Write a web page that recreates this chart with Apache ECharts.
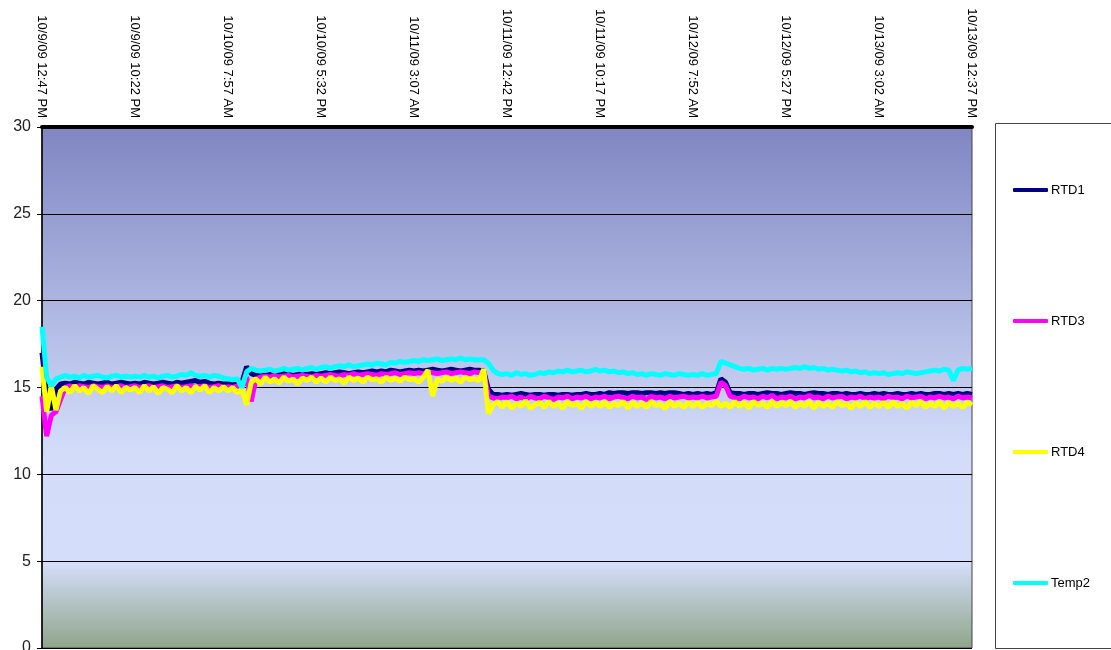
<!DOCTYPE html>
<html>
<head>
    <meta charset="utf-8">
    <title>ECharts</title>
    <script src="https://cdn.jsdelivr.net/npm/echarts@6/dist/echarts.min.js"></script>
</head>
<body style="margin:0;background:#fff;">
    <div id="main" style="width:1111px;height:650px;"></div>
    <script type="text/javascript">

        var tickLabels = ['10/9/09 12:47 PM', '10/9/09 10:22 PM', '10/10/09 7:57 AM', '10/10/09 5:32 PM',
            '10/11/09 3:07 AM', '10/11/09 12:42 PM', '10/11/09 10:17 PM', '10/12/09 7:52 AM',
            '10/12/09 5:27 PM', '10/13/09 3:02 AM', '10/13/09 12:37 PM'];

        // one row per label interval (20 readings), last row has the closing reading
        var rtd1 = [
            17.0, 14.6, 13.7, 14.9, 15.2, 15.25, 15.2, 15.3, 15.25, 15.2, 15.3, 15.25, 15.2, 15.25, 15.3, 15.2, 15.25, 15.3, 15.25, 15.2,
            15.25, 15.2, 15.3, 15.25, 15.2, 15.25, 15.3, 15.25, 15.2, 15.3, 15.25, 15.3, 15.35, 15.4, 15.3, 15.35, 15.25, 15.2, 15.25, 15.2,
            15.2, 15.25, 15.2, 15.3, 16.2, 15.8, 15.7, 15.75, 15.7, 15.75, 15.7, 15.75, 15.8, 15.75, 15.7, 15.75, 15.8, 15.75, 15.8, 15.75,
            15.8, 15.85, 15.8, 15.85, 15.9, 15.85, 15.8, 15.85, 15.9, 15.85, 15.9, 15.95, 15.9, 15.95, 15.9, 16.0, 15.95, 15.9, 15.95, 16.0,
            15.95, 16.0, 15.95, 16.0, 16.05, 16.0, 15.95, 16.0, 16.05, 16.0, 15.95, 16.0, 16.05, 16.0, 16.0, 15.95, 14.9, 14.6, 14.6, 14.55,
            14.6, 14.55, 14.6, 14.65, 14.6, 14.55, 14.6, 14.6, 14.55, 14.6, 14.6, 14.55, 14.6, 14.6, 14.55, 14.6, 14.6, 14.65, 14.6, 14.6,
            14.65, 14.6, 14.7, 14.65, 14.7, 14.7, 14.65, 14.7, 14.7, 14.65, 14.7, 14.7, 14.65, 14.7, 14.65, 14.7, 14.7, 14.65, 14.6, 14.65,
            14.6, 14.65, 14.6, 14.65, 14.6, 14.7, 15.5, 15.3, 14.7, 14.65, 14.65, 14.6, 14.65, 14.65, 14.6, 14.65, 14.7, 14.65, 14.65, 14.6,
            14.65, 14.7, 14.65, 14.65, 14.6, 14.65, 14.7, 14.65, 14.65, 14.6, 14.65, 14.65, 14.6, 14.65, 14.6, 14.6, 14.65, 14.6, 14.6, 14.65,
            14.6, 14.65, 14.6, 14.6, 14.65, 14.6, 14.6, 14.65, 14.6, 14.65, 14.6, 14.6, 14.65, 14.65, 14.6, 14.65, 14.6, 14.65, 14.6, 14.65,
            14.6
        ];
        var rtd3 = [
            14.5, 12.2, 13.4, 13.6, 14.3, 15.0, 15.1, 15.0, 15.1, 15.05, 15.0, 15.1, 15.05, 15.0, 15.1, 15.0, 15.05, 15.1, 15.0, 15.05,
            15.1, 15.0, 15.05, 15.1, 15.0, 15.05, 15.1, 15.0, 15.05, 15.1, 15.0, 15.05, 15.1, 15.0, 15.05, 15.1, 15.0, 15.05, 15.1, 15.0,
            15.05, 15.0, 15.1, 15.0, 15.6, 14.2, 15.5, 15.6, 15.65, 15.6, 15.7, 15.6, 15.65, 15.7, 15.6, 15.65, 15.7, 15.65, 15.6, 15.7,
            15.65, 15.7, 15.75, 15.7, 15.65, 15.75, 15.7, 15.8, 15.7, 15.75, 15.8, 15.75, 15.7, 15.8, 15.75, 15.8, 15.85, 15.75, 15.8, 15.85,
            15.8, 15.85, 15.8, 15.9, 15.85, 15.8, 15.85, 15.9, 15.8, 15.85, 15.9, 15.85, 15.8, 15.9, 15.85, 15.9, 14.5, 14.4, 14.35, 14.45,
            14.4, 14.5, 14.35, 14.45, 14.3, 14.5, 14.4, 14.35, 14.5, 14.4, 14.3, 14.45, 14.4, 14.5, 14.35, 14.45, 14.4, 14.5, 14.35, 14.45,
            14.4, 14.5, 14.35, 14.45, 14.5, 14.4, 14.35, 14.5, 14.4, 14.45, 14.3, 14.5, 14.4, 14.45, 14.35, 14.5, 14.4, 14.45, 14.5, 14.4,
            14.45, 14.4, 14.5, 14.4, 14.45, 14.5, 15.3, 15.1, 14.5, 14.4, 14.35, 14.5, 14.4, 14.45, 14.35, 14.5, 14.4, 14.55, 14.35, 14.45,
            14.4, 14.5, 14.35, 14.45, 14.4, 14.55, 14.4, 14.45, 14.35, 14.5, 14.4, 14.45, 14.5, 14.35, 14.45, 14.4, 14.5, 14.35, 14.45, 14.4,
            14.45, 14.35, 14.5, 14.4, 14.45, 14.35, 14.5, 14.4, 14.45, 14.5, 14.35, 14.45, 14.4, 14.5, 14.4, 14.45, 14.35, 14.5, 14.4, 14.45,
            14.4
        ];
        var rtd4 = [
            16.2, 13.6, 15.1, 13.7, 14.8, 15.0, 14.7, 15.1, 14.8, 15.0, 14.65, 15.1, 14.9, 14.7, 15.05, 14.8, 15.1, 14.7, 15.0, 14.85,
            15.0, 14.7, 15.1, 14.8, 15.05, 14.65, 15.0, 14.9, 14.7, 15.1, 14.8, 15.0, 14.7, 15.05, 14.85, 15.1, 14.7, 15.0, 14.8, 15.05,
            14.8, 15.0, 14.7, 14.9, 14.0, 15.3, 15.5, 15.2, 15.6, 15.3, 15.5, 15.25, 15.6, 15.35, 15.5, 15.2, 15.55, 15.4, 15.6, 15.3,
            15.55, 15.3, 15.6, 15.4, 15.5, 15.25, 15.6, 15.4, 15.55, 15.3, 15.6, 15.45, 15.5, 15.3, 15.6, 15.4, 15.55, 15.35, 15.6, 15.45,
            15.5, 15.3, 15.6, 16.0, 14.5, 15.5, 15.35, 15.6, 15.4, 15.55, 15.3, 15.6, 15.45, 15.5, 15.4, 16.05, 13.5, 14.0, 14.2, 13.85,
            14.2, 13.8, 14.1, 13.9, 14.25, 13.8, 14.0, 14.15, 13.85, 14.2, 13.9, 14.1, 13.8, 14.2, 13.95, 14.1, 13.8, 14.2, 13.9, 14.15,
            13.9, 14.2, 13.85, 14.1, 13.95, 14.2, 13.8, 14.15, 13.9, 14.1, 13.85, 14.2, 13.95, 14.05, 13.8, 14.2, 13.9, 14.1, 13.85, 14.15,
            13.9, 14.15, 13.85, 14.1, 13.95, 14.2, 13.9, 14.1, 13.85, 14.2, 13.9, 14.15, 13.8, 14.2, 13.95, 14.1, 13.85, 14.2, 13.9, 14.15,
            13.95, 14.2, 13.85, 14.1, 13.9, 14.2, 13.8, 14.15, 13.9, 14.1, 13.85, 14.2, 13.95, 14.1, 13.8, 14.15, 13.9, 14.2, 13.85, 14.1,
            13.9, 14.15, 13.85, 14.2, 13.9, 14.1, 13.8, 14.15, 13.95, 14.2, 13.85, 14.1, 13.9, 14.2, 13.8, 14.15, 13.9, 14.1, 13.85, 14.15,
            14.0
        ];
        var temp2 = [
            18.5, 15.6, 15.1, 15.5, 15.6, 15.7, 15.6, 15.65, 15.55, 15.7, 15.6, 15.65, 15.7, 15.6, 15.55, 15.65, 15.7, 15.6, 15.65, 15.6,
            15.65, 15.6, 15.7, 15.6, 15.65, 15.55, 15.65, 15.7, 15.6, 15.65, 15.75, 15.7, 15.85, 15.7, 15.65, 15.7, 15.6, 15.7, 15.65, 15.55,
            15.5, 15.45, 15.5, 15.0, 15.9, 16.1, 16.0, 15.95, 16.0, 16.05, 15.95, 16.0, 16.1, 16.0, 16.05, 16.1, 16.0, 16.1, 16.15, 16.05,
            16.15, 16.2, 16.1, 16.2, 16.25, 16.2, 16.3, 16.2, 16.25, 16.3, 16.35, 16.3, 16.4, 16.35, 16.3, 16.45, 16.4, 16.5, 16.45, 16.5,
            16.55, 16.5, 16.6, 16.55, 16.6, 16.65, 16.55, 16.6, 16.65, 16.6, 16.7, 16.6, 16.65, 16.6, 16.6, 16.6, 16.4, 16.0, 15.8, 15.75,
            15.8, 15.7, 15.85, 15.75, 15.8, 15.7, 15.75, 15.85, 15.8, 15.9, 15.85, 15.95, 15.9, 16.0, 15.9, 15.95, 16.0, 15.9, 15.95, 16.05,
            15.95, 16.0, 15.9, 15.95, 15.85, 15.9, 15.8, 15.85, 15.75, 15.8, 15.7, 15.8, 15.75, 15.7, 15.8, 15.75, 15.7, 15.8, 15.75, 15.7,
            15.75, 15.7, 15.8, 15.7, 15.75, 15.8, 16.5, 16.4, 16.3, 16.2, 16.1, 16.05, 16.1, 16.0, 16.05, 16.1, 16.0, 16.1, 16.05, 16.1,
            16.05, 16.1, 16.15, 16.1, 16.2, 16.1, 16.15, 16.05, 16.1, 16.0, 16.05, 16.0, 15.95, 16.0, 15.9, 15.95, 15.85, 15.9, 15.8, 15.85,
            15.8, 15.85, 15.75, 15.8, 15.85, 15.8, 15.9, 15.85, 15.8, 15.85, 15.9, 15.95, 16.0, 15.95, 16.05, 16.0, 15.4, 16.0, 16.1, 16.05,
            16.1
        ];

        var categories = [];
        for (var i = 0; i < rtd1.length; i++) {
            categories.push(i % 20 === 0 ? tickLabels[i / 20] : String(i));
        }

        var myChart = echarts.init(document.getElementById('main'));

        function line(name, color, data) {
            return {
                name: name,
                type: 'line',
                data: data,
                showSymbol: false,
                symbol: 'none',
                lineStyle: {color: color, width: 5},
                itemStyle: {color: color}
            };
        }

        var option = {
            animation: false,
            textStyle: {fontFamily: 'Liberation Sans, Arial, sans-serif'},
            graphic: [{
                type: 'rect',
                left: 995, top: 123,
                shape: {width: 140, height: 525},
                style: {fill: '#fff', stroke: '#444', lineWidth: 1},
                z: -1
            }],
            legend: {
                orient: 'vertical',
                left: 1013,
                top: 183,
                padding: 0,
                icon: 'roundRect',
                itemWidth: 35,
                itemHeight: 4,
                itemGap: 117,
                textStyle: {fontSize: 13, color: '#000', lineHeight: 14, padding: [0, 0, 0, -2]},
                data: ['RTD1', 'RTD3', 'RTD4', 'Temp2']
            },
            grid: {
                left: 42, right: 139, top: 127, bottom: 2,
                outerBoundsMode: 'none',
                containLabel: false,
                show: true,
                borderColor: '#444',
                borderWidth: 1,
                backgroundColor: new echarts.graphic.LinearGradient(0, 0, 0, 1, [
                    {offset: 0, color: '#7f86c2'},
                    {offset: 0.62, color: '#d3ddfa'},
                    {offset: 0.835, color: '#d4defa'},
                    {offset: 1, color: '#8fa589'}
                ])
            },
            xAxis: {
                type: 'category',
                position: 'top',
                boundaryGap: false,
                data: categories,
                axisLine: {onZero: false, lineStyle: {color: '#000', width: 4}},
                axisTick: {show: false},
                axisLabel: {
                    interval: 19,
                    rotate: 90,
                    fontSize: 13,
                    color: '#000',
                    margin: 9
                },
                splitLine: {show: false}
            },
            yAxis: {
                type: 'value',
                min: 0,
                max: 30,
                interval: 5,
                axisLine: {show: true, lineStyle: {color: '#000', width: 1.5}},
                axisTick: {show: true, length: 5, lineStyle: {color: '#000'}},
                axisLabel: {fontSize: 16, color: '#222', margin: 11},
                splitLine: {lineStyle: {color: '#000', width: 1}}
            },
            series: [
                line('RTD1', '#000080', rtd1),
                line('RTD3', '#ff00ff', rtd3),
                line('RTD4', '#ffff00', rtd4),
                line('Temp2', '#00ffff', temp2)
            ]
        };

        myChart.setOption(option);
    </script>
</body>
</html>
